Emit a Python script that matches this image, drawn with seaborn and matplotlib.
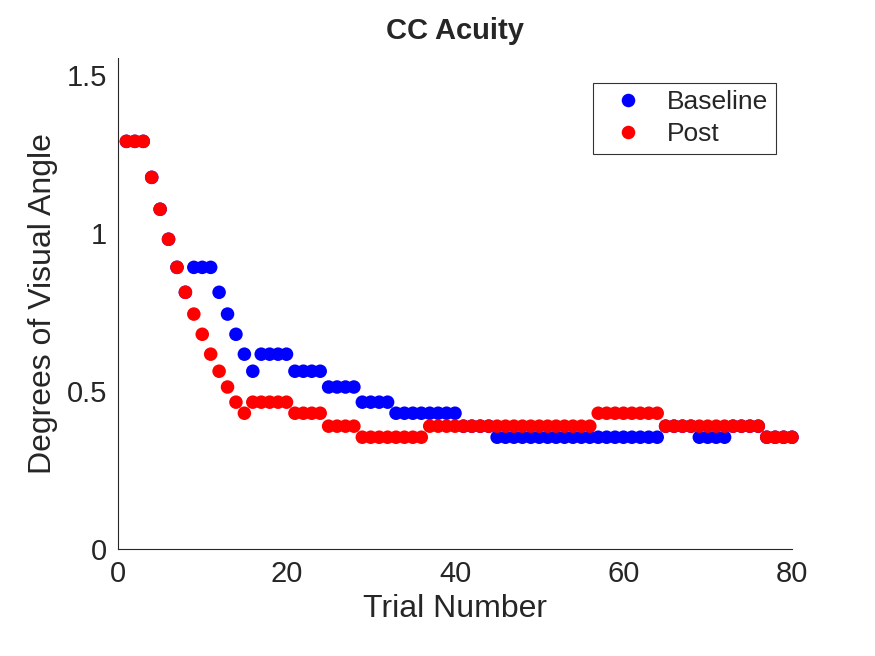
import numpy as np
import pandas as pd
import seaborn as sns
import matplotlib.pyplot as plt

# Acuity per trial (degrees of visual angle)
baseline = ([1.291] * 3 + [1.177, 1.076, 0.981, 0.892, 0.813]
            + [0.892] * 3 + [0.813, 0.744, 0.68, 0.617, 0.563]
            + [0.617] * 4 + [0.563] * 4 + [0.513] * 4 + [0.465] * 4
            + [0.43] * 8 + [0.389] * 4 + [0.354] * 20 + [0.389] * 4
            + [0.354] * 4 + [0.389] * 4 + [0.354] * 4)
post = ([1.291] * 3 + [1.177, 1.076, 0.981, 0.892, 0.813, 0.744, 0.68,
                        0.617, 0.563, 0.513, 0.465, 0.43]
        + [0.465] * 5 + [0.43] * 4 + [0.389] * 4 + [0.354] * 8
        + [0.389] * 20 + [0.43] * 8 + [0.389] * 12 + [0.354] * 4)

trials = np.arange(1, 81)
df = pd.DataFrame({
    'Trial': np.concatenate([trials, trials]),
    'Acuity': baseline + post,
    'Session': ['Baseline'] * 80 + ['Post'] * 80,
})

sns.set_style('white')
plt.rcParams['font.family'] = ['Liberation Sans', 'DejaVu Sans']

fig = plt.figure(figsize=(8.75, 6.56), dpi=100)
ax = fig.add_axes([118 / 875, 1 - 549 / 656, (792 - 118) / 875, (549 - 58) / 656])
sns.scatterplot(data=df, x='Trial', y='Acuity', hue='Session',
                palette={'Baseline': '#0000ff', 'Post': '#ff0000'},
                s=95, linewidth=0, clip_on=False, ax=ax)

ax.set_xlim(0, 80)
ax.set_ylim(0, 1.555)
ax.set_xticks([0, 20, 40, 60, 80])
ax.set_yticks([0, 0.5, 1, 1.5])
ax.set_yticklabels(['0', '0.5', '1', '1.5'])
ax.tick_params(direction='in', labelsize=21, colors='#262626', length=6, pad=8)
for side in ['top', 'right']:
    ax.spines[side].set_visible(False)
for side in ['left', 'bottom']:
    ax.spines[side].set_color('#262626')
ax.set_xlabel('Trial Number', fontsize=23, color='#262626', labelpad=4)
ax.set_ylabel('Degrees of Visual Angle', fontsize=23, color='#262626', labelpad=6)
ax.set_title('CC Acuity', fontsize=21, fontweight='bold', pad=14)

leg = ax.legend(loc='upper right', bbox_to_anchor=(0.977, 0.95), fontsize=19,
                fancybox=False, edgecolor='black', handletextpad=0.5,
                borderpad=0.3, labelspacing=0.3, markerscale=1.0,
                borderaxespad=0)
leg.get_frame().set_linewidth(0.8)

fig.savefig('out.png', dpi=100)
